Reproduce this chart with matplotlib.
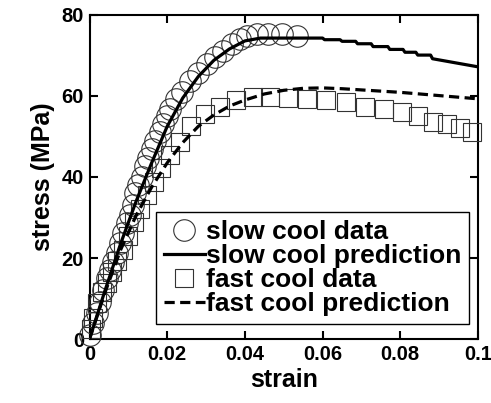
import matplotlib
matplotlib.use("Agg")
import matplotlib.pyplot as plt

plt.rcParams['font.family'] = ['Liberation Sans', 'DejaVu Sans']
plt.rcParams['font.weight'] = 'bold'

# slow cool experimental data
slow_strain = [0.0001, 0.0009, 0.0019, 0.0027, 0.0035, 0.0045, 0.0053, 0.0060, 0.0071,
               0.0078, 0.0086, 0.0096, 0.0104, 0.0112, 0.0117, 0.0125, 0.0135, 0.0143,
               0.0150, 0.0161, 0.0168, 0.0181, 0.0189, 0.0199, 0.0207, 0.0222, 0.0238,
               0.0258, 0.0279, 0.0302, 0.0323, 0.0343, 0.0366, 0.0387, 0.0405, 0.0431,
               0.0459, 0.0495, 0.0533]
slow_stress = [1.0, 4.0, 6.4, 9.2, 12.1, 15.1, 17.1, 19.1, 21.3,
               23.8, 26.2, 28.7, 30.7, 33.2, 36.1, 38.1, 40.1, 42.6,
               44.8, 46.8, 48.8, 51.0, 53.0, 55.0, 56.7, 59.2, 61.1,
               63.6, 65.8, 67.8, 69.6, 71.0, 72.8, 74.0, 74.8, 75.2,
               75.2, 75.2, 74.8]

# slow cool model prediction
slow_pred_strain = [0.0, 0.004, 0.008, 0.012, 0.016, 0.020, 0.024, 0.028, 0.032, 0.036,
                    0.040, 0.044, 0.055, 0.0600, 0.0605, 0.0645, 0.0650, 0.0685, 0.0690,
                    0.0725, 0.0730, 0.0768, 0.0773, 0.0807, 0.0812, 0.0840, 0.0845,
                    0.0878, 0.0883, 0.1000]
slow_pred_stress = [0.0, 12.0, 23.5, 34.0, 43.5, 52.5, 59.5, 64.8, 68.8, 71.6,
                    73.6, 74.3, 74.3, 74.3, 73.9, 73.9, 73.5, 73.5, 72.9,
                    72.9, 72.2, 72.2, 71.5, 71.5, 70.8, 70.8, 70.1,
                    70.1, 69.2, 67.2]

# fast cool experimental data
fast_strain = [0.0003, 0.0008, 0.0019, 0.0032, 0.0045, 0.0058, 0.0072, 0.0086, 0.0100,
               0.0115, 0.0130, 0.0147, 0.0165, 0.0185, 0.0207, 0.0232, 0.0262, 0.0298,
               0.0335, 0.0377, 0.0420, 0.0464, 0.0510, 0.0559, 0.0608, 0.0659, 0.0710,
               0.0759, 0.0805, 0.0846, 0.0885, 0.0921, 0.0954, 0.0985]
fast_stress = [2.5, 5.2, 8.9, 11.6, 13.8, 16.6, 19.2, 22.0, 25.5,
               29.0, 32.2, 35.6, 38.8, 42.2, 45.5, 48.7, 52.5, 55.6,
               57.4, 59.0, 59.8, 59.7, 59.4, 59.2, 58.9, 58.4, 57.4,
               56.7, 56.0, 55.0, 53.7, 53.0, 52.0, 51.2]

# fast cool model prediction
fast_pred_strain = [0.0, 0.004, 0.008, 0.012, 0.016, 0.020, 0.024, 0.028, 0.032, 0.036,
                    0.040, 0.045, 0.050, 0.055, 0.060, 0.065, 0.070, 0.075, 0.080,
                    0.085, 0.090, 0.095, 0.100]
fast_pred_stress = [0.0, 11.5, 22.0, 30.5, 37.5, 43.5, 48.5, 52.5, 55.3, 57.5,
                    59.0, 60.5, 61.4, 61.9, 62.0, 61.8, 61.5, 61.2, 60.9,
                    60.5, 60.1, 59.7, 59.3]

x_ticks = [0, 0.02, 0.04, 0.06, 0.08, 0.1]
x_ticklabels = ['0', '0.02', '0.04', '0.06', '0.08', '0.1']
y_ticks = [0, 20, 40, 60, 80]

fig = plt.figure(figsize=(4.91, 4.03), dpi=100)
ax = fig.add_axes([0.1823, 0.1588, 0.7912, 0.804])

ax.plot(slow_strain, slow_stress, linestyle='none', marker='o', ms=15.5,
        mfc='none', mec='#333333', mew=0.8, label='slow cool data', clip_on=False, zorder=3)
ax.plot(slow_pred_strain, slow_pred_stress, color='black', lw=2.3,
        label='slow cool prediction', zorder=4)
ax.plot(fast_strain, fast_stress, linestyle='none', marker='s', ms=13.5,
        mfc='none', mec='#333333', mew=0.8, label='fast cool data', clip_on=False, zorder=3)
ax.plot(fast_pred_strain, fast_pred_stress, color='black', lw=2.3,
        linestyle=(0, (3.2, 1.7)), label='fast cool prediction', zorder=4)

ax.set_xlim(0, 0.1)
ax.set_ylim(0, 80)
ax.set_xticks(x_ticks)
ax.set_xticklabels(x_ticklabels)
ax.set_yticks(y_ticks)
ax.tick_params(direction='in', length=6, width=1.5, top=True, right=True,
               labelsize=14.5, pad=4)
for lab in ax.get_xticklabels() + ax.get_yticklabels():
    lab.set_fontweight('bold')
for s in ax.spines.values():
    s.set_linewidth(1.5)

ax.set_xlabel('strain', fontsize=18, fontweight='bold', labelpad=3)
ax.set_ylabel('stress (MPa)', fontsize=18, fontweight='bold', labelpad=5)

leg = ax.legend(loc='lower left', bbox_to_anchor=(0.171, 0.046), borderaxespad=0,
                prop={'weight': 'bold', 'size': 19}, frameon=True,
                fancybox=False, edgecolor='black', handlelength=1.55, handletextpad=0.05,
                labelspacing=0.0, borderpad=0.3, framealpha=1)
leg.get_frame().set_linewidth(1.0)

fig.savefig('out.png', dpi=100)
